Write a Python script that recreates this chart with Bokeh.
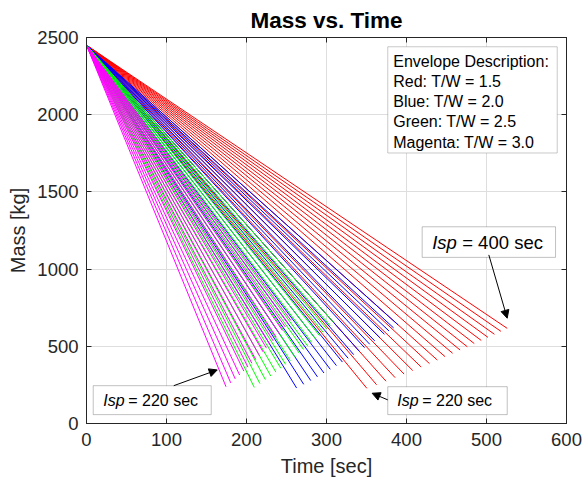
from bokeh.plotting import figure
from bokeh.models import (LinearAxis, Range1d, FixedTicker, Label, BoxAnnotation,
                          Arrow, NormalHead, ColumnDataSource, CustomJSTickFormatter)
from bokeh.embed import file_html
from bokeh.resources import INLINE

FONT = "Liberation Sans"
AX = "#262626"

# ---------------- data ----------------
isp = [220, 230, 240, 250, 260, 270, 280, 290, 300, 310,
       320, 330, 340, 350, 360, 370, 380, 390, 400]
m_start = 2450

red_t_end = [350.4, 362.6, 374.4, 385.8, 397.0, 407.8, 418.3, 428.7, 438.5, 448.2,
             457.6, 467.0, 476.0, 484.7, 493.4, 501.8, 509.9, 518.0, 525.9]
red_m_end = [228, 251, 274, 297, 320, 343, 366, 388, 411, 433,
             455, 476, 497, 518, 538, 558, 578, 597, 616]

blue_t_end = [262.6, 271.5, 280.3, 288.7, 296.8, 304.7, 312.4, 319.9, 327.1, 334.0,
              340.8, 347.6, 354.1, 360.3, 366.6, 372.4, 378.2, 383.9, 389.5]
blue_m_end = [230, 254, 278, 302, 327, 351, 375, 398, 422, 446,
              469, 491, 513, 535, 556, 578, 599, 619, 639]

green_t_end = [209.7, 216.7, 223.6, 230.3, 236.7, 242.9, 248.9, 254.8, 260.5, 266.0,
               271.3, 276.5, 281.5, 286.5, 291.3, 295.8, 300.2, 304.6, 309.0]
green_m_end = [234, 259, 284, 308, 333, 358, 383, 407, 431, 455,
               479, 502, 525, 547, 569, 591, 613, 634, 654]

magenta_t_end = [174.4, 180.3, 185.9, 191.4, 196.7, 201.8, 206.7, 211.6, 216.2, 220.7,
                 225.0, 229.3, 233.4, 237.3, 241.3, 244.9, 248.6, 252.2, 255.6]
magenta_m_end = [238, 263, 289, 314, 339, 365, 390, 414, 439, 464,
                 488, 511, 535, 558, 580, 603, 625, 646, 667]

envelopes = ["Red", "Blue", "Green", "Magenta"]
tw_ratio = ["1.5", "2.0", "2.5", "3.0"]
x_ticks = [0, 100, 200, 300, 400, 500, 600]
y_ticks = [0, 500, 1000, 1500, 2000, 2500]

# ---------------- figure ----------------
p = figure(width=582, height=485, x_range=Range1d(0, 600), y_range=Range1d(0, 2500),
           output_backend="svg", toolbar_location=None,
           min_border_left=86, min_border_right=16, min_border_top=32, min_border_bottom=62,
           background_fill_color="white", border_fill_color="white")

p.title.text = "Mass vs. Time"
p.title.text_font = FONT
p.title.text_font_size = "22.5px"
p.title.text_font_style = "bold"
p.title.text_color = "black"
p.title.align = "center"

p.outline_line_color = AX
p.outline_line_width = 1
p.outline_line_alpha = 1

for ax, ticks in ((p.xaxis[0], x_ticks), (p.yaxis[0], y_ticks)):
    ax.ticker = FixedTicker(ticks=ticks)
    ax.major_tick_in = 5
    ax.major_tick_out = 0
    ax.minor_tick_line_color = None
    ax.axis_line_color = AX
    ax.major_tick_line_color = AX
    ax.major_label_text_font = FONT
    ax.major_label_text_font_size = "18.5px"
    ax.major_label_text_color = AX
    ax.axis_label_text_font = FONT
    ax.axis_label_text_font_size = "20px"
    ax.axis_label_text_font_style = "normal"
    ax.axis_label_text_color = AX

p.xaxis[0].axis_label = "Time [sec]"
p.yaxis[0].axis_label = "Mass [kg]"
p.xaxis[0].major_label_standoff = 9
p.xaxis[0].axis_label_standoff = 6
p.yaxis[0].major_label_standoff = 8
p.yaxis[0].axis_label_standoff = 5

# box ticks on top and right (no labels)
blank = CustomJSTickFormatter(code="return '';")
top_ax = LinearAxis(ticker=FixedTicker(ticks=x_ticks), major_tick_in=5, major_tick_out=0,
                    minor_tick_line_color=None, axis_line_color=AX, major_tick_line_color=AX,
                    formatter=blank, major_label_text_font_size="1px", major_label_standoff=0)
right_ax = LinearAxis(ticker=FixedTicker(ticks=y_ticks), major_tick_in=5, major_tick_out=0,
                      minor_tick_line_color=None, axis_line_color=AX, major_tick_line_color=AX,
                      formatter=blank, major_label_text_font_size="1px", major_label_standoff=0)
p.add_layout(top_ax, "above")
p.add_layout(right_ax, "right")

p.xgrid.ticker = FixedTicker(ticks=x_ticks)
p.ygrid.ticker = FixedTicker(ticks=y_ticks)
p.grid.grid_line_color = "#dedede"
p.grid.grid_line_width = 1

# ---------------- lines ----------------
series = [
    ("#ff0000", red_t_end, red_m_end),
    ("#0000ff", blue_t_end, blue_m_end),
    ("#00ff00", green_t_end, green_m_end),
    ("#ff00ff", magenta_t_end, magenta_m_end),
]
for color, t_end, m_end in series:
    xs = [[0, t] for t in t_end]
    ys = [[m_start, m] for m in m_end]
    src = ColumnDataSource(dict(xs=xs, ys=ys, isp=isp))
    p.multi_line(xs="xs", ys="ys", source=src, line_color=color, line_width=1)

# ---------------- legend-like text box ----------------
p.add_layout(BoxAnnotation(left=376.6, right=588.4, top=2440, bottom=1752,
                           fill_color="white", fill_alpha=1,
                           line_color="#4d4d4d", line_width=1))
legend_lines = ["Envelope Description:"] + [f"{n}: T/W = {r}" for n, r in zip(envelopes, tw_ratio)]
legend_y = [2344, 2214, 2083, 1953, 1822]
for txt, yy in zip(legend_lines, legend_y):
    p.add_layout(Label(x=383.4, y=yy, text=txt, text_font=FONT, text_font_size="16px",
                       text_color="black", text_baseline="middle", text_align="left"))

# ---------------- Isp annotations ----------------
def isp_box(left, right, top, bottom, tx, ty, value_txt, size, offset):
    p.add_layout(BoxAnnotation(left=left, right=right, top=top, bottom=bottom,
                               fill_color="white", fill_alpha=1,
                               line_color="#333333", line_width=1))
    p.add_layout(Label(x=tx, y=ty, text="Isp", text_font=FONT, text_font_size=size,
                       text_font_style="italic", text_color="black",
                       text_baseline="middle", text_align="left"))
    p.add_layout(Label(x=tx, y=ty, x_offset=offset, text="= " + value_txt, text_font=FONT,
                       text_font_size=size, text_color="black",
                       text_baseline="middle", text_align="left"))

isp_box(419.6, 586.3, 1274, 1076, 432.1, 1175, f"{isp[-1]} sec", "18.5px", 30)
isp_box(8.4, 155.9, 245, 57.5, 20.9, 151, f"{isp[0]} sec", "16px", 25)
isp_box(376.6, 525.9, 238.5, 57.5, 388.4, 149, f"{isp[0]} sec", "16px", 25)

for xs_, ys_, xe, ye in [(502.9, 1092, 525.9, 682),
                         (109.1, 245, 163.4, 347),
                         (376.6, 153, 357.1, 196)]:
    p.add_layout(Arrow(x_start=xs_, y_start=ys_, x_end=xe, y_end=ye,
                       line_color="black", line_width=1,
                       end=NormalHead(size=8, fill_color="black", line_color="black")))

open("out.html", "w").write(file_html(p, INLINE))
